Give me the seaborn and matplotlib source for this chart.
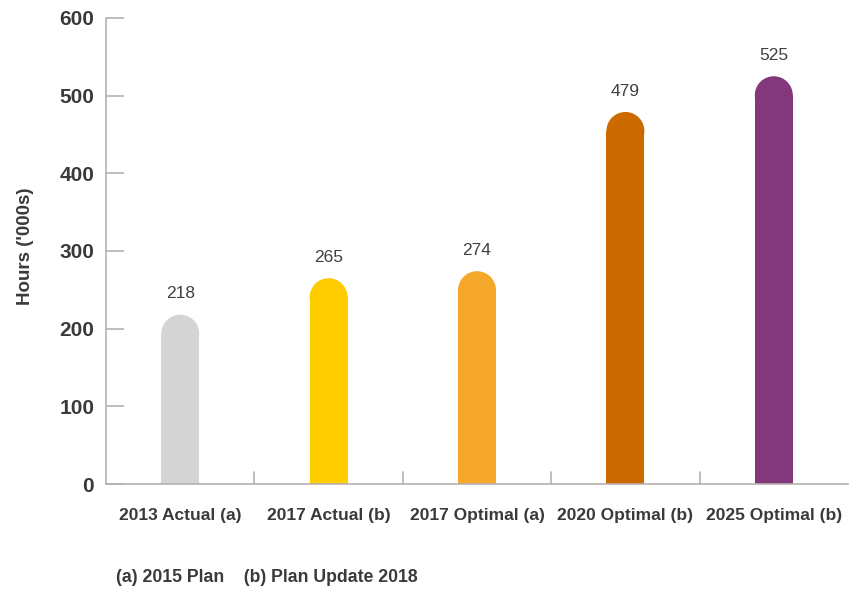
import matplotlib
matplotlib.use("Agg")
import matplotlib.pyplot as plt
from matplotlib.patches import Ellipse
import seaborn as sns
import pandas as pd

categories = ["2013 Actual (a)", "2017 Actual (b)", "2017 Optimal (a)",
              "2020 Optimal (b)", "2025 Optimal (b)"]
hours = [218, 265, 274, 479, 525]
colors = ["#d4d4d4", "#ffcc00", "#f5a72a", "#cc6a00", "#82387a"]
y_ticks = [0, 100, 200, 300, 400, 500, 600]
footnote = "(a) 2015 Plan    (b) Plan Update 2018"

sns.set_theme(style="white")
plt.rcParams["font.family"] = ["Liberation Sans", "DejaVu Sans"]

W, H = 852, 590
fig = plt.figure(figsize=(W / 100, H / 100), dpi=100)
ax_left, ax_right, ax_top, ax_bottom = 106, 848, 18, 484
ax = fig.add_axes([ax_left / W, 1 - ax_bottom / H,
                   (ax_right - ax_left) / W, (ax_bottom - ax_top) / H])

df = pd.DataFrame({"cat": categories, "hours": hours})
sns.barplot(data=df, x="cat", y="hours", hue="cat", palette=colors,
            legend=False, width=0.256, ax=ax, saturation=1)

ax.set_ylim(0, 600)
ax.set_xlim(-0.5, len(categories) - 0.5)

# pixel -> data scale factors for the rounded caps
px_per_x = (ax_right - ax_left) / len(categories)
px_per_y = (ax_bottom - ax_top) / 600.0

for patch, val, col in zip(list(ax.patches), hours, colors):
    x0 = patch.get_x()
    w = patch.get_width()
    r_px = w * px_per_x / 2
    r_y = r_px / px_per_y
    patch.set_height(val - r_y)
    patch.set_edgecolor("none")
    ax.add_patch(Ellipse((x0 + w / 2, val - r_y), w, 2 * r_y,
                         facecolor=col, edgecolor="none", zorder=patch.get_zorder()))
    ax.annotate(f"{val}", (x0 + w / 2, val), xytext=(0, 9.5),
                textcoords="offset points", ha="center", va="bottom",
                fontsize=12.5, color="#404040")

axis_color = "#b8b0b0"
sns.despine(ax=ax, top=True, right=True)
ax.spines["left"].set_color(axis_color)
ax.spines["bottom"].set_color(axis_color)
ax.spines["left"].set_linewidth(1.2)
ax.spines["bottom"].set_linewidth(1.2)

ax.set_yticks(y_ticks)
ax.set_yticklabels([str(t) for t in y_ticks], fontsize=15, fontweight="bold",
                   color="#3a3a3a")
ax.tick_params(axis="y", direction="in", length=13, width=1.2,
               color=axis_color, pad=8.5, left=True)
ax.tick_params(axis="x", length=0, pad=17)
for lbl in ax.get_xticklabels():
    lbl.set_fontsize(12.5)
    lbl.set_fontweight("bold")
    lbl.set_color("#3a3a3a")

# category separators along the base line
for b in range(1, len(categories)):
    ax.plot([b - 0.5, b - 0.5], [0, 15], color=axis_color, lw=1.2,
            clip_on=False, zorder=1)

ax.set_xlabel("")
ax.set_ylabel("Hours ('000s)", fontsize=13.5, fontweight="bold",
              color="#3a3a3a")
ax.yaxis.set_label_coords(-72 / (ax_right - ax_left), 0.51)

fig.text(116 / W, 1 - 578 / H, footnote, fontsize=12.7, fontweight="bold",
         color="#3a3a3a", ha="left", va="center")

fig.savefig("out.png", dpi=100)
